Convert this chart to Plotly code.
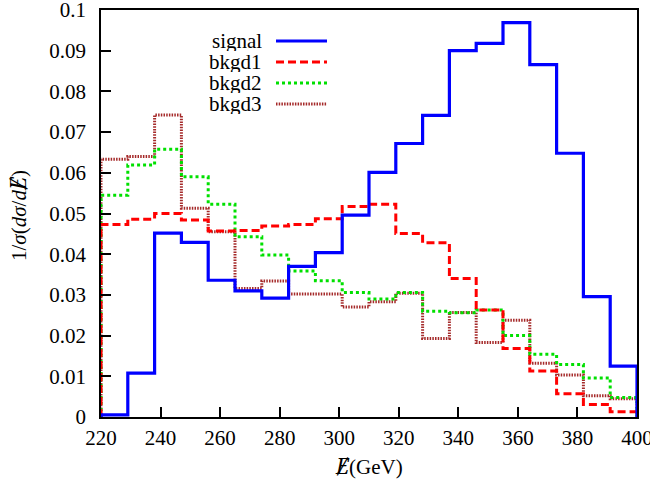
import plotly.graph_objects as go

# bin edges (GeV)
edges = [220, 229, 238, 247, 256, 265, 274, 283, 292, 301, 310,
         319, 328, 337, 346, 355, 364, 373, 382, 391, 400]

signal = [0.0005, 0.0108, 0.0452, 0.0429, 0.0336, 0.0310, 0.0292, 0.0370, 0.0404, 0.0496,
          0.0601, 0.0672, 0.0741, 0.0900, 0.0918, 0.0969, 0.0866, 0.0648, 0.0296, 0.0125]
bkgd1 = [0.0473, 0.0486, 0.0500, 0.0484, 0.0457, 0.0458, 0.0469, 0.0473, 0.0487, 0.0517,
         0.0523, 0.0451, 0.0428, 0.0340, 0.0263, 0.0168, 0.0113, 0.0057, 0.0031, 0.0013]
bkgd2 = [0.0545, 0.0619, 0.0658, 0.0590, 0.0523, 0.0443, 0.0398, 0.0359, 0.0335, 0.0306,
         0.0290, 0.0306, 0.0260, 0.0256, 0.0263, 0.0200, 0.0154, 0.0129, 0.0096, 0.0048]
bkgd3 = [0.0633, 0.0640, 0.0742, 0.0513, 0.0455, 0.0316, 0.0334, 0.0302, 0.0302, 0.0270,
         0.0283, 0.0304, 0.0193, 0.0257, 0.0183, 0.0238, 0.0132, 0.0103, 0.0052, 0.0045]

names = ["signal", "bkgd1", "bkgd2", "bkgd3"]
series = [signal, bkgd1, bkgd2, bkgd3]
colors = ["#0000FF", "#FF0000", "#00E000", "#A52A2A"]
dashes = ["solid", "8px,4px", "3px,3px", "1.5px,1.2px"]
widths = [3.2, 3.0, 3.0, 3.0]

xticks = [220, 240, 260, 280, 300, 320, 340, 360, 380, 400]
yticks = [0, 0.01, 0.02, 0.03, 0.04, 0.05, 0.06, 0.07, 0.08, 0.09, 0.1]
ytick_text = ["0", "0.01", "0.02", "0.03", "0.04", "0.05", "0.06", "0.07", "0.08", "0.09", "0.1"]

FONT = "Liberation Serif"
SLASH_E = "<span style='font-family:Noto Serif'><i>E\u0338</i></span>"

fig = go.Figure()
# draw backgrounds first, signal last on top
for idx in [3, 2, 1, 0]:
    vals = series[idx]
    xs = [edges[0]] + list(edges[:-1]) + [edges[-1], edges[-1]]
    ys = [0] + list(vals) + [vals[-1], 0]
    fig.add_trace(go.Scatter(
        x=xs, y=ys, mode="lines", line_shape="hv", name=names[idx],
        line=dict(color=colors[idx], width=widths[idx], dash=dashes[idx]),
        showlegend=False, hoverinfo="skip"))

L, R, T, B = 101, 637, 10, 417
def px(x):
    return (x - L) / (R - L)
def py(y):
    return (B - y) / (B - T)

# manual legend (text right-aligned, line sample on the right)
rows_y = [41, 62, 83, 104]
for i, nm in enumerate(names):
    fig.add_annotation(x=px(263), y=py(rows_y[i]), xref="paper", yref="paper",
                       text=nm, showarrow=False, xanchor="right", yanchor="middle",
                       height=20, valign="middle", borderpad=0,
                       font=dict(family=FONT, size=21, color="black"))
    fig.add_shape(type="line", xref="paper", yref="paper",
                  x0=px(276), x1=px(327), y0=py(rows_y[i]), y1=py(rows_y[i]),
                  line=dict(color=colors[i], width=widths[i], dash=dashes[i]))

# axis titles (with slashed E for missing energy)
fig.add_annotation(x=px(369), y=py(466), xref="paper", yref="paper",
                   text=SLASH_E + "(GeV)", showarrow=False, xanchor="center", yanchor="middle",
                   font=dict(family=FONT, size=21, color="black"))
fig.add_annotation(x=px(18), y=py(216), xref="paper", yref="paper",
                   text="1/<i>σ</i>(<i>dσ</i>/<i>d</i>" + SLASH_E + ")", showarrow=False, textangle=-90,
                   xanchor="center", yanchor="middle",
                   font=dict(family=FONT, size=21, color="black"))

fig.update_layout(
    width=650, height=487,
    margin=dict(l=L, r=650 - R, t=T, b=487 - B, autoexpand=False),
    paper_bgcolor="white", plot_bgcolor="white",
    font=dict(family=FONT, size=21, color="black"),
    showlegend=False,
)
fig.update_xaxes(
    range=[220, 400], tickvals=xticks, ticktext=[str(v) for v in xticks],
    ticks="inside", ticklen=10, tickwidth=1.5, tickcolor="black",
    showline=True, linewidth=1.5, linecolor="black", mirror=True,
    showgrid=False, zeroline=False, ticklabelstandoff=1, automargin=False,
    ticklabeloverflow="allow",
    tickfont=dict(family=FONT, size=21),
)
fig.update_yaxes(
    range=[0, 0.1], tickvals=yticks, ticktext=ytick_text,
    ticks="inside", ticklen=10, tickwidth=1.5, tickcolor="black",
    showline=True, linewidth=1.5, linecolor="black", mirror=True,
    showgrid=False, zeroline=False, ticklabelstandoff=9, automargin=False,
    ticklabeloverflow="allow",
    tickfont=dict(family=FONT, size=21),
)

fig.write_html("out.html")
